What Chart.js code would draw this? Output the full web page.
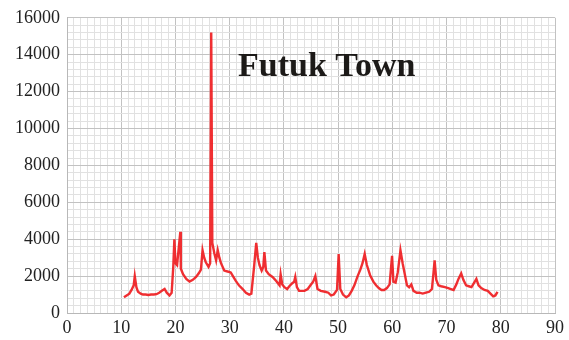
<!DOCTYPE html>
<html>
<head>
<meta charset="utf-8">
<script src="https://cdn.jsdelivr.net/npm/chart.js@4.4.1/dist/chart.umd.min.js"></script>
<style>
    html, body { margin: 0; padding: 0; background: #fff; }
    #wrap { width: 569px; height: 340px; position: relative; }
</style>
</head>
<body>
<div id="wrap"><canvas id="chart"></canvas></div>
<script>
const titleText = 'Futuk Town';

const xValues = [
    10.5, 11.0, 11.5, 11.9, 12.3, 12.5, 12.8, 13.1, 13.6, 14.0, 14.5, 15.0, 15.5, 16.0, 16.5, 17.0, 17.5, 18.0, 18.4, 18.9,
    19.3, 19.6, 19.8, 20.0, 20.3, 20.6, 20.9, 21.0, 21.4, 22.0, 22.6, 23.2, 23.8, 24.3, 24.7, 25.0, 25.3, 25.6, 26.1, 26.4,
    26.6, 26.8, 27.2, 27.5, 27.8, 28.1, 28.4, 29.0, 29.6, 30.2, 30.6, 31.1, 31.7, 32.4, 33.0, 33.6, 34.0, 34.5, 34.9, 35.2,
    35.5, 35.9, 36.2, 36.4, 36.7, 37.2, 37.9, 38.4, 38.8, 39.2, 39.4, 39.7, 40.1, 40.6, 41.0, 41.5, 41.9, 42.1, 42.4, 42.8,
    43.3, 43.8, 44.4, 44.9, 45.4, 45.8, 46.2, 46.8, 47.6, 48.2, 48.7, 49.2, 49.8, 50.1, 50.4, 50.9, 51.5, 52.0, 52.5, 53.0,
    53.6, 54.1, 54.5, 54.9, 55.3, 55.9, 56.5, 57.0, 57.5, 58.0, 58.5, 59.0, 59.5, 59.8, 59.95, 60.2, 60.6, 61.0, 61.5, 61.9,
    62.3, 62.7, 63.1, 63.5, 63.9, 64.5, 65.0, 65.6, 66.2, 66.8, 67.3, 67.6, 67.8, 68.1, 68.5, 69.0, 69.7, 70.3, 70.8, 71.3,
    71.8, 72.2, 72.7, 73.1, 73.6, 74.1, 74.6, 75.1, 75.5, 75.9, 76.4, 77.0, 77.6, 78.1, 78.6, 79.0, 79.4
];

const yValues = [
    850, 950, 1050, 1250, 1500, 2000, 1400, 1150, 1050, 1000, 1000, 980, 1000, 1000, 1020, 1100, 1200, 1300, 1100, 950,
    1100, 2500, 4000, 2700, 2600, 3500, 4400, 2400, 2100, 1850, 1700, 1800, 1950, 2150, 2350, 3400, 3000, 2750, 2500, 2700,
    15200, 3800, 3200, 2850, 3400, 3000, 2700, 2300, 2250, 2200, 2000, 1750, 1500, 1300, 1100, 1000, 1050, 2500, 3800, 3000,
    2600, 2300, 2500, 3300, 2300, 2100, 1950, 1800, 1650, 1500, 2100, 1550, 1400, 1300, 1450, 1600, 1700, 1950, 1400, 1200,
    1200, 1200, 1300, 1500, 1700, 2000, 1300, 1200, 1150, 1100, 950, 1000, 1250, 3200, 1300, 1000, 850, 950, 1200, 1500,
    2000, 2350, 2700, 3200, 2600, 2050, 1700, 1500, 1350, 1250, 1250, 1350, 1550, 2600, 3100, 1700, 1650, 2200, 3400, 2700,
    2100, 1500, 1400, 1550, 1200, 1100, 1100, 1050, 1100, 1150, 1300, 2200, 2850, 1800, 1500, 1450, 1400, 1350, 1300, 1250,
    1550, 1850, 2150, 1800, 1500, 1450, 1400, 1650, 1850, 1500, 1350, 1250, 1200, 1050, 900, 950, 1150
];

const xMin = 0, xMax = 90, xMinorStep = 1.25, xMajorStep = 10;
const yMin = 0, yMax = 16000, yMinorStep = 400, yMajorStep = 2000;

const tickFont = { family: "'Liberation Serif', 'DejaVu Serif', serif", size: 18 };
const majorGrid = '#c2c2c2';
const minorGrid = '#e1e1e1';

function isMajor(value, step) {
    return Math.abs(value / step - Math.round(value / step)) < 1e-6;
}

// Title drawn inside the plot area
const titleInside = {
    id: 'titleInside',
    afterDatasetsDraw(chart) {
        const { ctx, chartArea } = chart;
        ctx.save();
        ctx.font = "bold 34px 'Liberation Serif', 'DejaVu Serif', serif";
        ctx.fillStyle = '#1c1a18';
        ctx.textAlign = 'left';
        ctx.textBaseline = 'alphabetic';
        ctx.fillText(titleText, chartArea.left + 171, chartArea.top + 58);
        ctx.restore();
    }
};

const bg = {
    id: 'bg',
    beforeDraw(chart) {
        const { ctx } = chart;
        ctx.save();
        ctx.fillStyle = '#fff';
        ctx.fillRect(0, 0, chart.width, chart.height);
        ctx.restore();
    }
};

new Chart(document.getElementById('chart'), {
    type: 'line',
    data: {
        datasets: [{
            data: xValues.map((x, i) => ({ x, y: yValues[i] })),
            borderColor: 'rgba(238, 24, 28, 0.9)',
            borderWidth: 2.4,
            pointRadius: 0,
            tension: 0,
            fill: false,
        }],
    },
    options: {
        responsive: true,
        maintainAspectRatio: false,
        animation: false,
        layout: { padding: { left: 0, right: 14, top: 14, bottom: 0 } },
        plugins: { legend: { display: false }, tooltip: { enabled: false } },
        scales: {
            x: {
                type: 'linear',
                min: xMin,
                max: xMax,
                afterFit: (s) => { s.height = 27; },
                afterBuildTicks: (s) => {
                    const t = [];
                    for (let v = xMin; v <= xMax + 1e-9; v += xMinorStep) t.push({ value: v });
                    s.ticks = t;
                },
                ticks: {
                    autoSkip: false,
                    maxRotation: 0,
                    padding: 4,
                    color: '#222',
                    font: tickFont,
                    callback: (v) => (isMajor(v, xMajorStep) ? String(v) : ''),
                },
                grid: {
                    drawTicks: false,
                    color: (c) => (c.tick && isMajor(c.tick.value, xMajorStep) ? majorGrid : minorGrid),
                },
                border: { color: '#b8b8b8' },
            },
            y: {
                min: yMin,
                max: yMax,
                afterFit: (s) => { s.width = 67; },
                afterBuildTicks: (s) => {
                    const t = [];
                    for (let v = yMin; v <= yMax + 1e-9; v += yMinorStep) t.push({ value: v });
                    s.ticks = t;
                },
                ticks: {
                    autoSkip: false,
                    padding: 7,
                    color: '#222',
                    font: tickFont,
                    callback: (v) => (isMajor(v, yMajorStep) ? String(v) : ''),
                },
                grid: {
                    drawTicks: false,
                    color: (c) => (c.tick && isMajor(c.tick.value, yMajorStep) ? majorGrid : minorGrid),
                },
                border: { color: '#b8b8b8' },
            },
        },
    },
    plugins: [bg, titleInside],
});
</script>
</body>
</html>
